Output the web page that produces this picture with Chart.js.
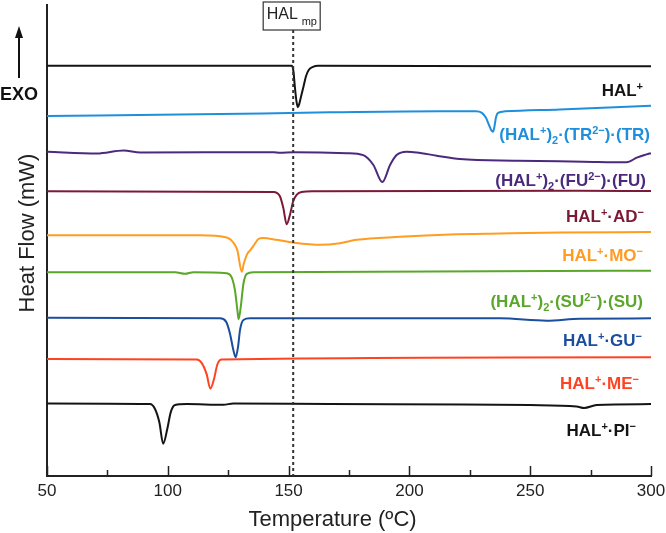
<!DOCTYPE html>
<html>
<head>
<meta charset="utf-8">
<script src="https://cdn.jsdelivr.net/npm/chart.js@4.4.1/dist/chart.umd.min.js"></script>
<style>
  html, body { margin: 0; padding: 0; background: #fff; }
  canvas { display: block; }
</style>
</head>
<body>
<canvas id="dsc" width="666" height="533"></canvas>
<script>
// temperature (C) / heat flow (arbitrary, stacked)
const tHAL = [50, 151.4, 152.0, 152.6, 153.3, 153.8, 154.3, 155.1, 156.2, 157.2, 158.4, 160.1, 162.2, 300];
const hfHAL = [414.5, 414.5, 409, 393, 378, 372.7, 375, 383, 394, 404, 410.5, 413.5, 414.5, 414];

const tTR = [50, 113.3, 167.1, 212.7, 227.6, 230.0, 231.7, 232.9, 234.0, 234.6, 235.2, 235.8, 236.7, 239.6, 262.3, 300];
const hfTR = [363.7, 365.5, 367.5, 368.7, 368.7, 367, 362, 355, 349, 348, 353, 362, 367, 368.5, 370.5, 374.2];

const tFU = [50, 70.7, 81.7, 88.6, 143.8, 146.4, 152.1, 174.2, 180.9, 185.1, 188.8, 192.0, 194.7, 198.9, 203.0, 211.3, 220.9, 244.4, 271.9, 289.9, 294.1, 298.2, 300];
const hfFU = [327.7, 326, 329, 327, 327.3, 326.7, 327.3, 326.3, 324.3, 314.3, 297, 314.3, 324.3, 327.7, 327, 323.7, 320.3, 318.7, 317.7, 317, 321.7, 325, 326.3];

const tAD = [50, 143.7, 146.4, 147.8, 149.2, 150.6, 151.9, 153.4, 155.4, 160.2, 269.2, 300];
const hfAD = [287.7, 287, 282.7, 271, 254.3, 264.3, 277.7, 284.3, 287, 287.7, 288.3, 288];

const tMO = [50, 113.3, 124.4, 127.1, 128.8, 130.6, 131.5, 132.8, 134.4, 136.1, 137.5, 139.4, 145.1, 151.9, 163.0, 171.3, 178.2, 196.1, 216.8, 237.5, 262.3, 300];
const hfMO = [243.3, 243.3, 241, 236, 228, 206.5, 215, 224, 229, 235, 239.5, 240.5, 238.7, 236, 233.7, 235.3, 238.7, 241.7, 244, 245, 246, 246.5];

const tSU = [50, 103.0, 107.1, 110.6, 124.4, 126.4, 127.8, 128.8, 129.3, 130.2, 131.3, 132.7, 135.4, 300];
const hfSU = [206, 206, 204.3, 206, 205, 201, 187.7, 167.7, 158.5, 171, 194.3, 204.3, 206, 207.5];

const tGU = [50, 121.6, 124.1, 125.7, 127.1, 128.1, 129.1, 129.9, 131.3, 134.0, 237.5, 256.8, 270.6, 300];
const hfGU = [160, 159.3, 156, 144.3, 127.7, 120, 131, 147.7, 157.7, 159.3, 159.3, 157, 159, 159.3];

const tME = [50, 112.0, 114.0, 116.1, 117.6, 119.1, 120.5, 122.3, 300];
const hfME = [118.3, 117.7, 114.3, 102.7, 88.3, 97.7, 112.7, 117.7, 120];

const tPI = [50, 92.6, 94.7, 96.5, 98.1, 99.8, 101.2, 103.0, 107.8, 123.0, 127.1, 167.1, 222.3, 249.9, 269.2, 272.3, 277.5, 300];
const hfPI = [73.3, 72.7, 67.7, 54.3, 32.7, 47.7, 64.3, 71.7, 72.7, 72, 73.3, 72.7, 72.3, 71.7, 70.3, 68.7, 71.7, 72.7];

const majorTicks = [50, 100, 150, 200, 250, 300];
const minorTicks = [75, 125, 175, 225, 275];
const halMp = 151.9;

// label pieces: n = normal, sup, sub
const series = [
  { t: tHAL, hf: hfHAL, color: "#141414", label: [["HAL", "n"], ["+", "sup"]], lx: 643, ly: 96 },
  { t: tTR, hf: hfTR, color: "#1f8fdc", label: [["(HAL", "n"], ["+", "sup"], [")", "n"], ["2", "sub"], ["·(TR", "n"], ["2−", "sup"], [")·(TR)", "n"]], lx: 650, ly: 140 },
  { t: tFU, hf: hfFU, color: "#4b2a7e", label: [["(HAL", "n"], ["+", "sup"], [")", "n"], ["2", "sub"], ["·(FU", "n"], ["2−", "sup"], [")·(FU)", "n"]], lx: 646, ly: 186 },
  { t: tAD, hf: hfAD, color: "#7b1a36", label: [["HAL", "n"], ["+", "sup"], ["·AD", "n"], ["−", "sup"]], lx: 644, ly: 222 },
  { t: tMO, hf: hfMO, color: "#ff9c22", label: [["HAL", "n"], ["+", "sup"], ["·MO", "n"], ["−", "sup"]], lx: 643, ly: 261 },
  { t: tSU, hf: hfSU, color: "#5aa72b", label: [["(HAL", "n"], ["+", "sup"], [")", "n"], ["2", "sub"], ["·(SU", "n"], ["2−", "sup"], [")·(SU)", "n"]], lx: 643, ly: 307 },
  { t: tGU, hf: hfGU, color: "#1c4e9e", label: [["HAL", "n"], ["+", "sup"], ["·GU", "n"], ["−", "sup"]], lx: 642, ly: 346 },
  { t: tME, hf: hfME, color: "#ff4322", label: [["HAL", "n"], ["+", "sup"], ["·ME", "n"], ["−", "sup"]], lx: 639, ly: 389 },
  { t: tPI, hf: hfPI, color: "#141414", label: [["HAL", "n"], ["+", "sup"], ["·PI", "n"], ["−", "sup"]], lx: 636, ly: 436 },
];

const FONT = "'Liberation Sans', Arial, sans-serif";

function richText(ctx, parts, xRight, base, color) {
  const fontFor = (k) => (k === "n" ? "bold 17px " : "bold 11px ") + FONT;
  let w = 0;
  parts.forEach(([s, k]) => { ctx.font = fontFor(k); w += ctx.measureText(s).width; });
  let x = xRight - w;
  ctx.fillStyle = color;
  ctx.textAlign = "left";
  ctx.textBaseline = "alphabetic";
  parts.forEach(([s, k]) => {
    ctx.font = fontFor(k);
    const dy = k === "sup" ? -6 : k === "sub" ? 4 : 0;
    ctx.fillText(s, x, base + dy);
    x += ctx.measureText(s).width;
  });
}

const decor = {
  id: "decor",
  afterDatasetsDraw(chart) {
    const { ctx, chartArea: a, scales: { x } } = chart;
    ctx.save();
    // inward ticks
    ctx.strokeStyle = "#222";
    ctx.lineWidth = 1.5;
    majorTicks.concat(minorTicks).forEach((t) => {
      const px = Math.round(x.getPixelForValue(t)) + 0.5;
      const len = majorTicks.includes(t) ? 10 : 6;
      ctx.beginPath();
      ctx.moveTo(px, a.bottom);
      ctx.lineTo(px, a.bottom - len);
      ctx.stroke();
    });

    // melting point marker
    const mx = x.getPixelForValue(halMp);
    ctx.strokeStyle = "#333";
    ctx.lineWidth = 2;
    ctx.setLineDash([3, 3]);
    ctx.beginPath();
    ctx.moveTo(mx, 30);
    ctx.lineTo(mx, a.bottom);
    ctx.stroke();
    ctx.setLineDash([]);
    ctx.fillStyle = "#fff";
    ctx.fillRect(mx - 30, 2, 57, 28);
    ctx.lineWidth = 1.2;
    ctx.strokeRect(mx - 30, 2, 57, 28);
    ctx.fillStyle = "#222";
    ctx.font = "16px " + FONT;
    ctx.textAlign = "left";
    ctx.fillText("HAL", mx - 26.5, 18.5);
    ctx.font = "11px " + FONT;
    ctx.fillText("mp", mx + 8.5, 25);

    // curve labels
    chart.data.datasets.forEach((ds, i) => {
      const s = series[i];
      richText(ctx, s.label, s.lx, s.ly, s.color);
    });

    // EXO arrow
    ctx.strokeStyle = "#111";
    ctx.fillStyle = "#111";
    ctx.lineWidth = 2;
    ctx.beginPath();
    ctx.moveTo(19, 78);
    ctx.lineTo(19, 34);
    ctx.stroke();
    ctx.beginPath();
    ctx.moveTo(19, 26);
    ctx.lineTo(15, 38);
    ctx.lineTo(23, 38);
    ctx.closePath();
    ctx.fill();
    ctx.font = "bold 18px " + FONT;
    ctx.textAlign = "center";
    ctx.fillText("EXO", 19, 100);

    // axis titles
    ctx.fillStyle = "#222";
    ctx.font = "22px " + FONT;
    ctx.fillText("Temperature (ºC)", 332.5, 526);
    ctx.translate(33.5, 233);
    ctx.rotate(-Math.PI / 2);
    ctx.fillText("Heat Flow (mW)", 0, 0);
    ctx.restore();
  },
};

new Chart(document.getElementById("dsc"), {
  type: "line",
  data: {
    datasets: series.map((s) => ({
      data: s.t.map((t, i) => ({ x: t, y: s.hf[i] })),
      borderColor: s.color,
      borderWidth: 2,
      pointRadius: 0,
      cubicInterpolationMode: "monotone",
      fill: false,
    })),
  },
  options: {
    responsive: false,
    animation: false,
    layout: { padding: { left: 47, right: 15, top: 5, bottom: 26.6 } },
    plugins: { legend: { display: false }, tooltip: { enabled: false } },
    scales: {
      x: {
        type: "linear",
        min: 50,
        max: 300,
        grid: { display: false, drawTicks: false },
        border: { display: true, color: "#222", width: 2 },
        ticks: {
          stepSize: 50,
          autoSkip: false,
          maxRotation: 0,
          padding: 5,
          color: "#222",
          font: { family: FONT, size: 17 },
        },
        afterFit(scale) {
          // let the "300" label run to the canvas edge as in the figure
          scale.paddingLeft = 0;
          scale.paddingRight = 0;
        },
      },
      y: {
        min: 0,
        max: 476,
        grid: { display: false, drawTicks: false },
        border: { display: true, color: "#222", width: 2 },
        ticks: { display: false },
      },
    },
  },
  plugins: [decor],
});
</script>
</body>
</html>
